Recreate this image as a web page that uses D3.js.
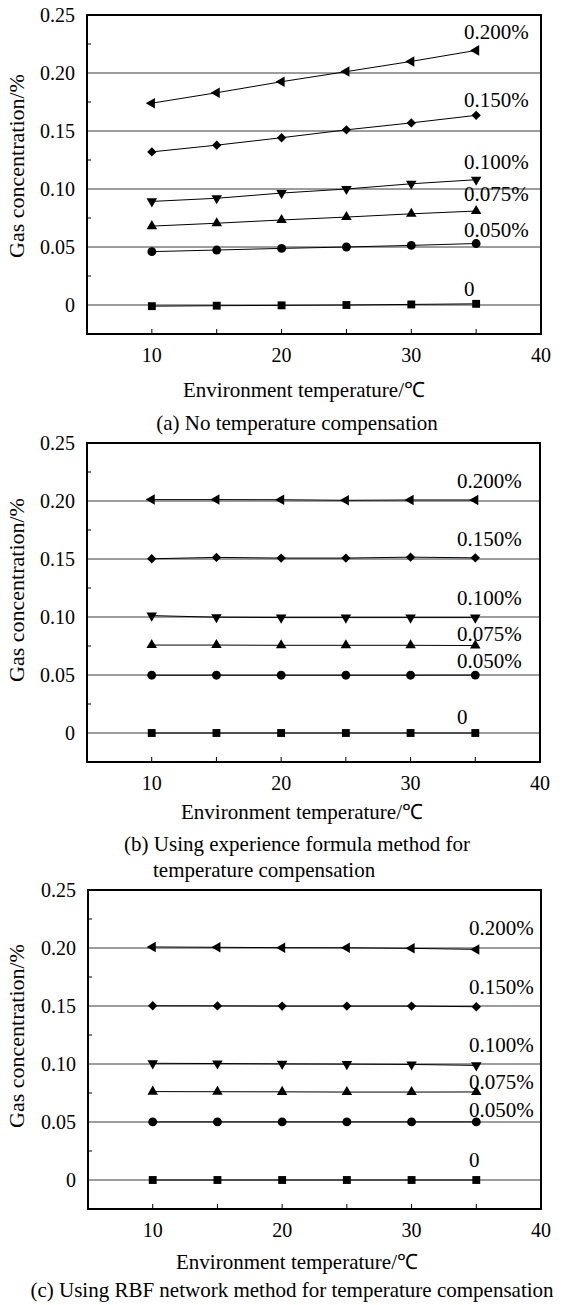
<!DOCTYPE html>
<html>
<head>
<meta charset="utf-8">
<script src="https://cdn.jsdelivr.net/npm/d3@7"></script>
<style>
  body { margin: 0; background: #fff; }
  svg text { font-family: 'Liberation Serif', 'Times New Roman', serif; fill: #000; }
</style>
</head>
<body>
<svg id="chart" width="576" height="1305"></svg>
<script>
// temperatures (x) and series names
const temps = [10, 15, 20, 25, 30, 35]
const seriesNames = ['0.200%', '0.150%', '0.100%', '0.075%', '0.050%', '0']
const xTicks = [10, 20, 30, 40]
const yTicks = [0, 0.05, 0.1, 0.15, 0.2, 0.25]

// (a) no compensation
const noComp200 = [0.174, 0.183, 0.1925, 0.2012, 0.21, 0.2195]
const noComp150 = [0.132, 0.1378, 0.1442, 0.151, 0.157, 0.1635]
const noComp100 = [0.0893, 0.092, 0.0965, 0.1, 0.1045, 0.108]
const noComp075 = [0.068, 0.0705, 0.0733, 0.0758, 0.0786, 0.081]
const noComp050 = [0.046, 0.0474, 0.0488, 0.05, 0.0514, 0.053]
const noComp000 = [-0.001, -0.0006, -0.0003, 0, 0.0005, 0.001]

// (b) experience formula
const formula200 = [0.2012, 0.2012, 0.2011, 0.2006, 0.2009, 0.2009]
const formula150 = [0.1502, 0.1514, 0.1508, 0.1508, 0.1516, 0.151]
const formula100 = [0.1012, 0.0998, 0.0995, 0.0995, 0.0995, 0.0995]
const formula075 = [0.0758, 0.0758, 0.0756, 0.0756, 0.0756, 0.0754]
const formula050 = [0.0498, 0.0498, 0.0498, 0.0498, 0.0498, 0.0499]
const formula000 = [0, 0, 0, 0, 0, 0]

// (c) RBF network
const rbf200 = [0.2009, 0.2006, 0.2003, 0.2002, 0.1997, 0.1988]
const rbf150 = [0.1502, 0.1501, 0.1499, 0.1499, 0.1499, 0.1494]
const rbf100 = [0.1006, 0.1004, 0.1001, 0.0999, 0.0996, 0.0988]
const rbf075 = [0.0762, 0.0761, 0.076, 0.0758, 0.0758, 0.0759]
const rbf050 = [0.0501, 0.0501, 0.0501, 0.0501, 0.0501, 0.0501]
const rbf000 = [0, 0, 0, 0, 0, 0]

// where the series labels sit (in concentration units)
const labelLevelsA = [0.2356, 0.1774, 0.1236, 0.0962, 0.065, 0.0141]
const labelLevelsB = [0.2179, 0.1678, 0.1165, 0.086, 0.0627, 0.0138]
const labelLevelsC = [0.2173, 0.1669, 0.117, 0.0849, 0.061, 0.0173]

const panels = [
  {
    series: [noComp200, noComp150, noComp100, noComp075, noComp050, noComp000],
    labels: labelLevelsA,
    box: { left: 87, right: 541, top: 15, bottom: 334 },
    labelX: 464, xTitle: [304, 390], yTitleY: 166,
    caption: [{ text: '(a) No temperature compensation', x: 297, y: 423, anchor: 'middle' }],
  },
  {
    series: [formula200, formula150, formula100, formula075, formula050, formula000],
    labels: labelLevelsB,
    box: { left: 87, right: 540, top: 443, bottom: 762 },
    labelX: 457, xTitle: [302, 812], yTitleY: 590,
    caption: [
      { text: '(b) Using experience formula method for', x: 297, y: 844, anchor: 'middle' },
      { text: 'temperature compensation', x: 153, y: 870, anchor: 'start' },
    ],
  },
  {
    series: [rbf200, rbf150, rbf100, rbf075, rbf050, rbf000],
    labels: labelLevelsC,
    box: { left: 88, right: 541, top: 890, bottom: 1209 },
    labelX: 469, xTitle: [297, 1262], yTitleY: 1036,
    caption: [{ text: '(c) Using RBF network method for temperature compensation', x: 292, y: 1290, anchor: 'middle' }],
  },
]

// marker per series: left, diamond, down, up, circle, square
const symbols = [
  { type: d3.symbolTriangle, size: 48, rotate: -90 },
  { type: d3.symbolSquare, size: 44, rotate: 45 },
  { type: d3.symbolTriangle, size: 48, rotate: 180 },
  { type: d3.symbolTriangle, size: 48, rotate: 0 },
  { type: d3.symbolCircle, size: 62, rotate: 0 },
  { type: d3.symbolSquare, size: 62, rotate: 0 },
]

const svg = d3.select('#chart')

panels.forEach(drawPanel)

function drawPanel(p) {
  const b = p.box
  const x = d3.scaleLinear().domain([5, 40]).range([b.left, b.right])
  const y = d3.scaleLinear().domain([-0.025, 0.25]).range([b.bottom, b.top])
  const g = svg.append('g')

  // grid lines at each major y tick
  g.selectAll('.grid')
    .data(yTicks.slice(0, -1))
    .enter()
    .append('line')
    .attr('x1', b.left)
    .attr('x2', b.right)
    .attr('y1', (d) => y(d))
    .attr('y2', (d) => y(d))
    .attr('stroke', '#3a3a3a')
    .attr('stroke-width', 1)

  // minor y ticks (inside)
  g.selectAll('.ytick')
    .data(d3.range(0.025, 0.25, 0.05))
    .enter()
    .append('line')
    .attr('x1', b.left)
    .attr('x2', b.left + 4)
    .attr('y1', (d) => y(d))
    .attr('y2', (d) => y(d))
    .attr('stroke', '#000')

  // x ticks every 5 (inside)
  g.selectAll('.xtick')
    .data(temps)
    .enter()
    .append('line')
    .attr('x1', (d) => x(d))
    .attr('x2', (d) => x(d))
    .attr('y1', b.bottom)
    .attr('y2', b.bottom - 5)
    .attr('stroke', '#000')

  const line = d3
    .line()
    .x((_, i) => x(temps[i]))
    .y((d) => y(d))

  p.series.forEach((vals, si) => {
    g.append('path')
      .datum(vals)
      .attr('fill', 'none')
      .attr('stroke', '#000')
      .attr('stroke-width', 1)
      .attr('d', line)

    const sym = symbols[si]
    g.selectAll('.m' + si)
      .data(vals)
      .enter()
      .append('path')
      .attr('d', d3.symbol().type(sym.type).size(sym.size))
      .attr('transform', (d, i) => `translate(${x(temps[i])},${y(d)}) rotate(${sym.rotate})`)
      .attr('fill', '#000')

    g.append('text')
      .attr('x', p.labelX)
      .attr('y', y(p.labels[si]))
      .attr('dy', '0.35em')
      .style('font-size', '21px')
      .text(seriesNames[si])
  })

  // frame
  g.append('rect')
    .attr('x', b.left)
    .attr('y', b.top)
    .attr('width', b.right - b.left)
    .attr('height', b.bottom - b.top)
    .attr('fill', 'none')
    .attr('stroke', '#000')
    .attr('stroke-width', 2)

  // tick labels
  g.selectAll('.xl')
    .data(xTicks)
    .enter()
    .append('text')
    .attr('x', (d) => x(d))
    .attr('y', b.bottom + 21)
    .attr('dy', '0.35em')
    .attr('text-anchor', 'middle')
    .style('font-size', '20px')
    .text((d) => d)

  g.selectAll('.yl')
    .data(yTicks)
    .enter()
    .append('text')
    .attr('x', b.left - 12)
    .attr('y', (d) => y(d))
    .attr('dy', '0.35em')
    .attr('text-anchor', 'end')
    .style('font-size', '20px')
    .text((d) => (d === 0 ? '0' : d.toFixed(2)))

  // axis titles
  g.append('text')
    .attr('transform', `translate(16,${p.yTitleY}) rotate(-90)`)
    .attr('dy', '0.35em')
    .attr('text-anchor', 'middle')
    .style('font-size', '22px')
    .text('Gas concentration/%')

  g.append('text')
    .attr('x', p.xTitle[0])
    .attr('y', p.xTitle[1])
    .attr('dy', '0.35em')
    .attr('text-anchor', 'middle')
    .style('font-size', '21px')
    .text('Environment temperature/℃')

  p.caption.forEach((c) => {
    g.append('text')
      .attr('x', c.x)
      .attr('y', c.y)
      .attr('dy', '0.35em')
      .attr('text-anchor', c.anchor)
      .style('font-size', '21px')
      .text(c.text)
  })
}
</script>
</body>
</html>
